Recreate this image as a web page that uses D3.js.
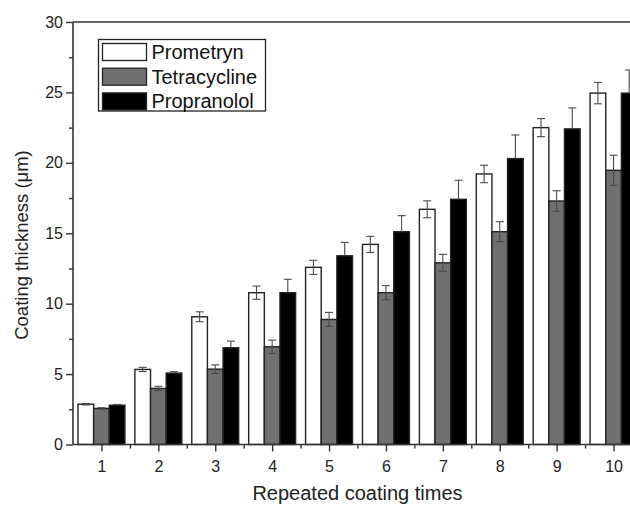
<!DOCTYPE html>
<html><head><meta charset="utf-8">
<script src="https://cdn.jsdelivr.net/npm/d3@7"></script>
<style>body{margin:0;background:#fff}svg{display:block}text{font-family:"Liberation Sans",Arial,sans-serif}</style>
</head><body><svg id="c" width="630" height="505"></svg>
<script>
const categories = [1,2,3,4,5,6,7,8,9,10];
const seriesNames = ["Prometryn","Tetracycline","Propranolol"];
const prometryn    = [2.86,5.33,9.07,10.78,12.58,14.21,16.70,19.21,22.50,24.95];
const prometrynErr = [0.05,0.15,0.35,0.47,0.50,0.57,0.60,0.62,0.64,0.76];
const tetracycline    = [2.56,3.98,5.35,6.94,8.88,10.78,12.90,15.11,17.29,19.47];
const tetracyclineErr = [0.05,0.15,0.30,0.47,0.50,0.50,0.60,0.71,0.73,1.07];
const propranolol    = [2.79,5.07,6.87,10.78,13.40,15.11,17.41,20.30,22.41,24.95];
const propranololErr = [0.05,0.10,0.47,0.95,0.95,1.14,1.35,1.68,1.49,1.64];
const yTicks = [0,5,10,15,20,25,30];

const fills = ["#ffffff","#707070","#000000"];
const values = [prometryn, tetracycline, propranolol];
const errs = [prometrynErr, tetracyclineErr, propranololErr];

const svg = d3.select("#c");
const L = 73, R = 642, T = 22, B = 444.5;
const x = d3.scaleLinear().domain([0.5,10.5]).range([L,R]);
const y = d3.scaleLinear().domain([0,30]).range([B,T]);
const bw = 0.275;

const g = svg.append("g");
// bars
seriesNames.forEach((name,si)=>{
  const off = (si-1)*bw;
  g.selectAll(".b"+si).data(categories).enter().append("rect")
    .attr("x", d=>x(d+off-bw/2))
    .attr("width", d=>x(d+off+bw/2)-x(d+off-bw/2))
    .attr("y", (d,i)=>y(values[si][i]))
    .attr("height", (d,i)=>B-y(values[si][i]))
    .attr("fill", fills[si]).attr("stroke","#222").attr("stroke-width",1.4);
});
// error bars (dark lines; on black bars the lower half is invisible)
seriesNames.forEach((name,si)=>{
  const off = (si-1)*bw;
  categories.forEach((d,i)=>{
    const cx = x(d+off), v = values[si][i], e = errs[si][i];
    const col = "#4a4a4a";
    const lo = si===2 ? v : v-e;
    g.append("line").attr("x1",cx).attr("x2",cx).attr("y1",y(v+e)).attr("y2",y(lo)).attr("stroke",col).attr("stroke-width",1.1);
    const caps = si===2 ? [v+e] : [v+e, v-e];
    caps.forEach(t=>{
      g.append("line").attr("x1",cx-4).attr("x2",cx+4).attr("y1",y(t)).attr("y2",y(t)).attr("stroke",col).attr("stroke-width",1.1);
    });
  });
});

// axes
const yAxis = d3.axisLeft(y).tickValues(yTicks).tickSize(7).tickPadding(3).tickFormat(d3.format("d"));
svg.append("g").attr("transform",`translate(${L},0)`).call(yAxis);
const yMinor = d3.axisLeft(y).tickValues(d3.range(2.5,30,5)).tickSize(4).tickFormat("");
svg.append("g").attr("transform",`translate(${L},0)`).call(yMinor);
const xAxis = d3.axisBottom(x).tickValues(categories).tickSize(7).tickPadding(9).tickFormat(d3.format("d"));
svg.append("g").attr("transform",`translate(0,${B})`).call(xAxis);
const xMinor = d3.axisBottom(x).tickValues(d3.range(1.5,10.5,1)).tickSize(4).tickFormat("");
svg.append("g").attr("transform",`translate(0,${B})`).call(xMinor);
svg.selectAll(".domain").remove();
svg.selectAll(".tick line").attr("stroke","#333").attr("stroke-width",1.4);
svg.selectAll(".tick text").attr("font-size",16).attr("fill","#222");
// frame
[[L,T,L,B],[L,B,R,B],[L,T,R,T],[R,T,R,B]].forEach(p=>{
  svg.append("line").attr("x1",p[0]).attr("y1",p[1]).attr("x2",p[2]).attr("y2",p[3]).attr("stroke","#333").attr("stroke-width",1.6);
});

// titles
svg.append("text").attr("x",357.5).attr("y",500).attr("text-anchor","middle").attr("font-size",20).attr("fill","#222").text("Repeated coating times");
svg.append("text").attr("transform",`translate(28,245) rotate(-90)`).attr("text-anchor","middle").attr("font-size",18.5).attr("fill","#222").text("Coating thickness (μm)");

// legend
const lg = svg.append("g");
lg.append("rect").attr("x",98.5).attr("y",39.5).attr("width",167).attr("height",71.5).attr("fill","#fff").attr("stroke","#222").attr("stroke-width",1.3);
seriesNames.forEach((n,i)=>{
  const yy = 43.5 + i*24.7;
  lg.append("rect").attr("x",102.5).attr("y",yy).attr("width",44).attr("height",17).attr("fill",fills[i]).attr("stroke","#222").attr("stroke-width",1.3);
  lg.append("text").attr("x",151.5).attr("y",yy+15.5).attr("font-size",20).attr("fill","#111").text(n);
});
</script></body></html>
